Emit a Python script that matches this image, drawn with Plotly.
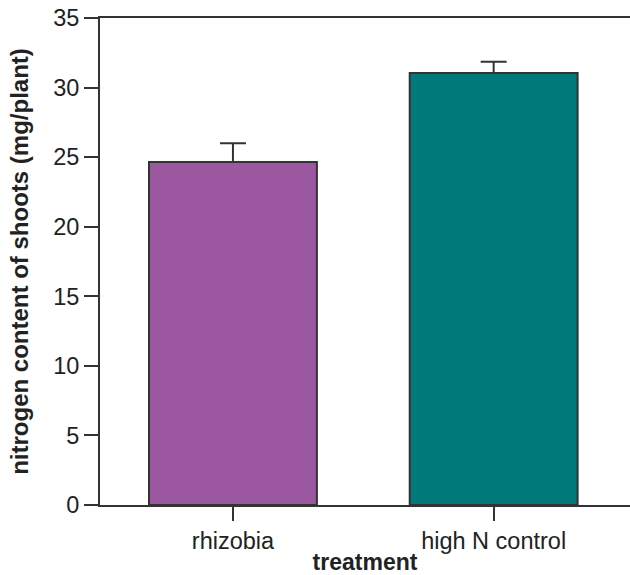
import plotly.graph_objects as go

categories = ["rhizobia", "high N control"]
values = [24.65, 31.05]
errors = [1.35, 0.8]
colors = ["#9B58A0", "#007A7B"]

y_ticks = [0, 5, 10, 15, 20, 25, 30, 35]

fig = go.Figure()
fig.add_trace(go.Bar(
    x=[0, 1],
    y=values,
    width=0.644,
    marker=dict(color=colors, line=dict(color="#333333", width=2)),
    error_y=dict(type="data", array=errors, symmetric=False, arrayminus=[0, 0],
                 color="#333333", thickness=2, width=13, visible=True),
    showlegend=False,
))

font_family = "Liberation Sans, Arial, Helvetica, sans-serif"

fig.update_layout(
    width=630, height=575,
    margin=dict(l=100, r=0, t=18, b=70),
    paper_bgcolor="white", plot_bgcolor="white",
    font=dict(family=font_family, size=23, color="#222222"),
)

fig.update_xaxes(
    range=[-0.51, 1.523],
    tickmode="array", tickvals=[0, 1], ticktext=categories,
    showline=True, linecolor="#333333", linewidth=2, mirror=True,
    ticks="outside", ticklen=14, tickwidth=2, tickcolor="#333333",
    showgrid=False, zeroline=False, automargin=False,
    tickfont=dict(size=23.5, color="#222222"),
    title=dict(text="<b>treatment</b>", font=dict(size=23, color="#222222"), standoff=7),
)

fig.update_yaxes(
    range=[0, 35],
    tickmode="array", tickvals=y_ticks,
    showline=True, linecolor="#333333", linewidth=2, mirror=False,
    ticks="outside", ticklen=14, tickwidth=2, tickcolor="#333333",
    showgrid=False, zeroline=False, automargin=False,
    ticklabeloverflow="allow",
    tickfont=dict(size=23.5, color="#222222"),
    title=dict(text="<b>nitrogen content of shoots (mg/plant)</b>", font=dict(size=24, color="#222222"), standoff=18),
)

fig.write_html("out.html", config={"displayModeBar": False},
               post_script="document.body.style.margin='0';")
